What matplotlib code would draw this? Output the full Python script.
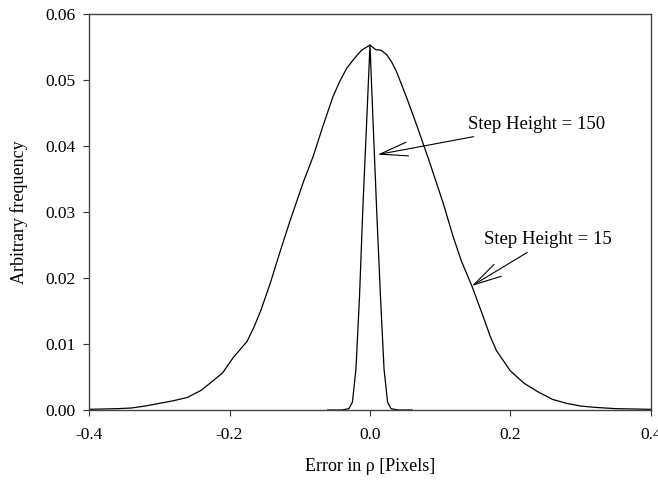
import numpy as np
import matplotlib.pyplot as plt

plt.rcParams['font.family'] = ['Liberation Serif', 'DejaVu Serif']

# wide distribution (step height = 15)
wide_x = [-0.40, -0.36, -0.34, -0.32, -0.30, -0.28, -0.26, -0.24, -0.225, -0.21,
          -0.195, -0.175, -0.165, -0.155, -0.142, -0.128, -0.114, -0.095, -0.081,
          -0.067, -0.053, -0.043, -0.033, -0.022, -0.012, 0.0, 0.008, 0.016, 0.024,
          0.031, 0.038, 0.053, 0.067, 0.085, 0.104, 0.118, 0.13, 0.145, 0.161,
          0.171, 0.18, 0.20, 0.22, 0.24, 0.26, 0.28, 0.30, 0.32, 0.35, 0.40]
wide_y = [0.0001, 0.0002, 0.0003, 0.0006, 0.0010, 0.0014, 0.0019, 0.0030, 0.0043,
          0.0056, 0.0079, 0.0104, 0.0126, 0.0152, 0.0192, 0.0240, 0.0286, 0.0345,
          0.0384, 0.0430, 0.0474, 0.0498, 0.0518, 0.0533, 0.0545, 0.0553, 0.0546,
          0.0545, 0.0538, 0.0527, 0.0512, 0.0471, 0.0430, 0.0375, 0.0314, 0.0264,
          0.0226, 0.0188, 0.0142, 0.0112, 0.0090, 0.0059, 0.0040, 0.0027, 0.0016,
          0.0010, 0.0006, 0.0004, 0.0002, 0.0001]

# narrow distribution (step height = 150)
narrow_x = [-0.06, -0.04, -0.03, -0.025, -0.02, -0.015, -0.01, -0.005, 0.0,
            0.005, 0.01, 0.015, 0.02, 0.025, 0.03, 0.04, 0.06]
narrow_y = [0.0, 0.0, 0.0002, 0.0012, 0.0062, 0.0170, 0.0310, 0.0430, 0.0553,
            0.0420, 0.0290, 0.0170, 0.0062, 0.0012, 0.0002, 0.0, 0.0]

xticks = [-0.4, -0.2, 0.0, 0.2, 0.4]
yticks = [0.00, 0.01, 0.02, 0.03, 0.04, 0.05, 0.06]

fig = plt.figure(figsize=(6.58, 4.82), dpi=100)
ax = fig.add_axes([0.1353, 0.1494, 0.854, 0.8216])

ax.plot(wide_x, wide_y, color='black', lw=0.9)
ax.plot(narrow_x, narrow_y, color='black', lw=0.9)

ax.set_xlim(-0.4, 0.4)
ax.set_ylim(0, 0.06)
ax.set_xticks(xticks)
ax.set_xticklabels(['%.1f' % t for t in xticks])
ax.set_yticks(yticks)
ax.set_yticklabels(['%.2f' % t for t in yticks])
ax.tick_params(direction='out', length=4, width=0.8, labelsize=12.5,
               colors='#333333', labelcolor='black')
ax.tick_params(axis='x', pad=8)
ax.tick_params(axis='y', pad=6)
for s in ax.spines.values():
    s.set_color('#444444')
    s.set_linewidth(1.0)

ax.set_xlabel('Error in ρ [Pixels]', fontsize=13, labelpad=11)
ax.set_ylabel('Arbitrary frequency', fontsize=13, labelpad=12)

arrow = dict(arrowstyle='->,head_length=2.0,head_width=0.5', lw=0.8,
             color='black', shrinkA=2, shrinkB=0, mutation_scale=10)
ax.annotate('Step Height = 150', xy=(0.011, 0.0387), xytext=(0.14, 0.0432),
            fontsize=13.5, va='center', ha='left', arrowprops=arrow)
ax.annotate('Step Height = 15', xy=(0.145, 0.0188), xytext=(0.163, 0.0258),
            fontsize=13.5, va='center', ha='left', arrowprops=arrow)

fig.savefig('out.png', dpi=100)
